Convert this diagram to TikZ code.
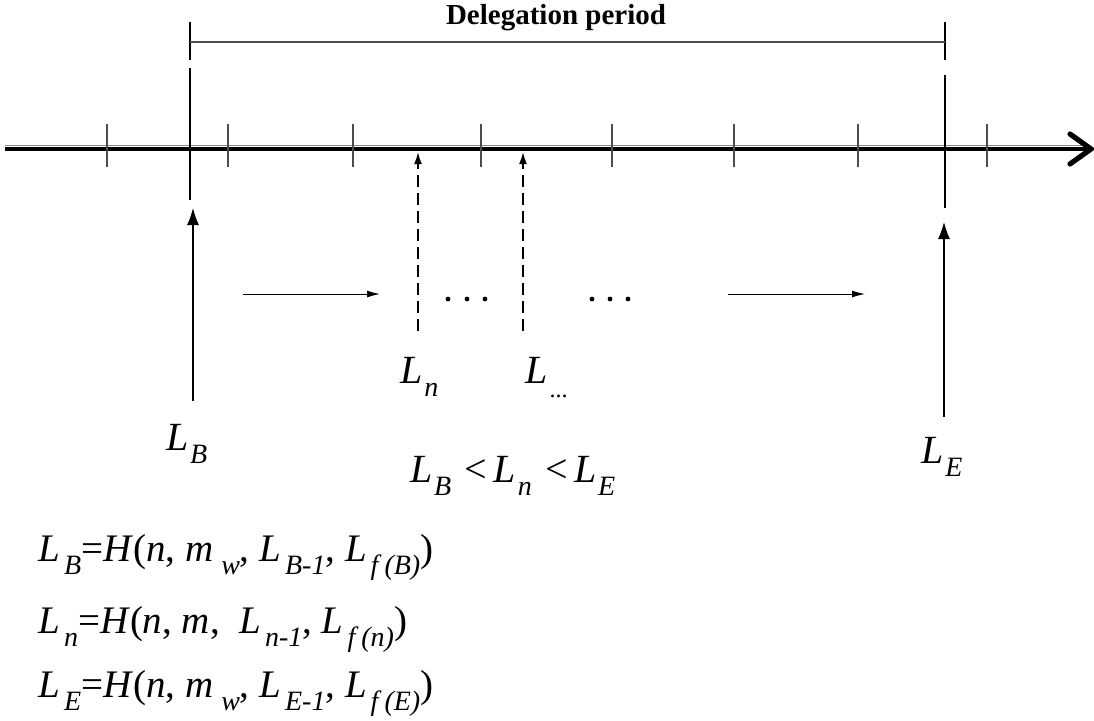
\documentclass[tikz,border=0pt]{standalone}
\usepackage{fontspec}
\setmainfont{Liberation Serif}
\usetikzlibrary{arrows.meta}
\newcommand{\sbt}[1]{\raisebox{-6.5pt}{\fontsize{14}{14}\selectfont #1}}
\newcommand{\Lsb}[1]{\textit{L}\kern2pt\sbt{\textit{#1}}}
\newcommand{\Lsbl}[1]{\textit{L}\kern0.8pt\sbt{\textit{#1}}}
\begin{document}
\begin{tikzpicture}[x=0.5pt,y=-0.5pt,
  tick/.style={line width=0.6pt,draw=black!70},
  bigline/.style={line width=0.8pt,draw=black},
  brack/.style={line width=0.9pt,draw=black!70},
  uparrow/.style={line width=0.6pt,-{Latex[length=8.5pt,width=6pt]}},
  harrow/.style={line width=0.5pt,-{Latex[length=6.5pt,width=3.5pt]}},
  dasharrow/.style={line width=0.9pt,dash pattern=on 6pt off 3pt,-{Latex[length=6pt,width=4pt]}},
  lbl/.style={inner sep=0pt,anchor=base west,font=\fontsize{20}{20}\selectfont},
  eq/.style={inner sep=0pt,anchor=base west,font=\fontsize{19.5}{19.5}\selectfont},
  dot/.style={circle,fill=black,inner sep=0pt,minimum size=2.4pt}]
\useasboundingbox (0,0) rectangle (1094,720);
% axis
\coordinate (a0) at (5,149);
\coordinate (a1) at (1088,149);
\draw[line width=0.5pt,black!45] (5,145) -- (1086,145);
\draw[line width=1.6pt] (a0) -- (a1);
\coordinate (h1) at (1070,134);
\coordinate (h2) at (1091,149);
\coordinate (h3) at (1070,164);
\draw[line width=2.6pt,line cap=round,line join=miter] (h1) -- (h2) -- (h3);
% ticks
\foreach \x in {107,228,353,481,612,734,858,987}
  \draw[tick] (\x,124) -- (\x,167);
% delegation bracket
\coordinate (bl1) at (190,22);
\coordinate (bl2) at (190,60);
\coordinate (br1) at (945,22);
\coordinate (br2) at (945,60);
\coordinate (bm1) at (190,42);
\coordinate (bm2) at (945,42);
\draw[bigline] (bl1) -- (bl2);
\draw[bigline] (br1) -- (br2);
\draw[brack] (bm1) -- (bm2);
\node[inner sep=0pt,font=\bfseries\fontsize{14.5}{14.5}\selectfont] (del) at (556,18) {Delegation period};
% big verticals
\coordinate (vb1) at (190,68);
\coordinate (vb2) at (190,200);
\coordinate (ve1) at (945,75);
\coordinate (ve2) at (945,208);
\draw[bigline] (vb1) -- (vb2);
\draw[bigline] (ve1) -- (ve2);
% up arrows
\coordinate (lbb) at (193,401);
\coordinate (lbt) at (193,208);
\coordinate (leb) at (944,417);
\coordinate (let) at (944,222);
\draw[uparrow] (lbb) -- (lbt);
\draw[uparrow] (leb) -- (let);
% dashed arrows
\coordinate (d1b) at (418,331);
\coordinate (d1t) at (418,152);
\coordinate (d2b) at (523,331);
\coordinate (d2t) at (523,152);
\draw[dasharrow] (d1b) -- (d1t);
\draw[dasharrow] (d2b) -- (d2t);
% horizontal arrows
\coordinate (ha1) at (243,294);
\coordinate (ha2) at (380,294);
\coordinate (hb1) at (728,294);
\coordinate (hb2) at (865,294);
\draw[harrow] (ha1) -- (ha2);
\draw[harrow] (hb1) -- (hb2);
% dots
\foreach \x/\n in {448/p1,467/p2,485/p3,592/q1,610/q2,628/q3}
  \node[dot] (\n) at (\x,299) {};
% labels
\node[lbl] (LB) at (166,450) {\Lsbl{B}};
\node[lbl] (LE) at (921,463) {\Lsbl{E}};
\node[lbl] (Ln) at (400,383) {\Lsbl{n}};
\node[lbl] (Ld) at (525,383) {\textit{L}\kern1pt\raisebox{-7pt}{\fontsize{12}{12}\selectfont ...}};
\node[lbl] (ineq) at (410,482) {\Lsbl{B}\,\,<\,\Lsbl{n}\,\,<\,\Lsbl{E}};
% equations
\node[eq] (e1) at (38,561) {\Lsb{B}=\textit{H}(\textit{n}, \textit{m}\kern4pt\sbt{\textit{w}}, \Lsb{B-1}, \Lsb{f\kern3pt(B)})};
\node[eq] (e2) at (38,633) {\Lsb{n}=\textit{H}(\textit{n}, \textit{m},\ \ \Lsb{n-1}, \Lsb{f\kern3pt(n)})};
\node[eq] (e3) at (38,697) {\Lsb{E}=\textit{H}(\textit{n}, \textit{m}\kern4pt\sbt{\textit{w}}, \Lsb{E-1}, \Lsb{f\kern3pt(E)})};
\end{tikzpicture}
\end{document}
